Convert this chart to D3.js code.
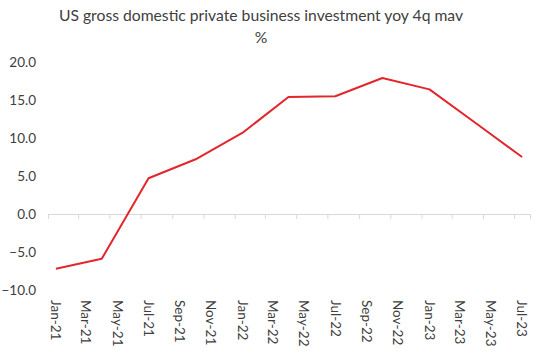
<!DOCTYPE html>
<html>
<head>
<meta charset="utf-8">
<script src="https://cdn.jsdelivr.net/npm/d3@7"></script>
<style>
  body { margin: 0; background: #fff; }
  svg { display: block; font-family: Lato, "Open Sans", sans-serif; }
</style>
</head>
<body>
<svg id="chart" width="540" height="351"></svg>
<script>
// quarterly observations (first month of quarter)
const periods = ["2021-01", "2021-04", "2021-07", "2021-10", "2022-01", "2022-04",
                 "2022-07", "2022-10", "2023-01", "2023-04", "2023-07"];
const values = [-7.2, -5.9, 4.7, 7.2, 10.7, 15.4, 15.5, 17.9, 16.4, 12.0, 7.5];
const yTicks = [-10, -5, 0, 5, 10, 15, 20];
const titleLines = ["US gross domestic private business investment yoy 4q mav", "%"];

const parseMonth = d3.timeParse("%Y-%m");
const data = periods.map((p, i) => ({ date: parseMonth(p), value: values[i] }));

const svg = d3.select("svg#chart");
const textColor = "#404040";

const area = { left: 48, right: 530, top: 62, bottom: 290 };

// x - date axis by months, points in the middle of their month
const start = parseMonth("2021-01");
const end = d3.timeMonth.offset(parseMonth("2023-07"), 1);
const scX = d3.scaleTime().domain([start, end]).range([area.left, area.right]);
const scY = d3.scaleLinear().domain([-10, 20]).range([area.bottom, area.top]);

const midMonth = d => {
    const next = d3.timeMonth.offset(d, 1);
    return (scX(d) + scX(next)) / 2;
};

// title
svg.append("g")
    .selectAll("text")
    .data(titleLines)
    .enter()
    .append("text")
    .attr("x", 261)
    .attr("y", (d, i) => 21 + i * 22)
    .attr("text-anchor", "middle")
    .style("font-size", "15.7px")
    .style("fill", textColor)
    .text(d => d);

// y labels (no axis line)
const axisY = d3.axisLeft(scY)
    .tickValues(yTicks)
    .tickFormat(d3.format(".1f"))
    .tickSize(0)
    .tickPadding(0);

svg.append("g")
    .attr("transform", "translate(36,0)")
    .call(axisY)
    .call(g => g.select(".domain").remove())
    .selectAll("text")
    .style("font-family", "Lato, 'Open Sans', sans-serif")
    .style("font-size", "13.5px")
    .style("fill", textColor);

// x axis sits on zero line
const monthTicks = d3.timeMonth.range(start, end, 2);
const axisX = d3.axisBottom(scX)
    .tickValues(monthTicks)
    .tickSize(5)
    .tickFormat("");

svg.append("g")
    .attr("transform", `translate(0,${scY(0)})`)
    .call(axisX)
    .call(g => g.selectAll("line, path").attr("stroke", "#d9d9d9"));

// x labels, rotated, at bottom
svg.append("g")
    .selectAll("text")
    .data(monthTicks)
    .enter()
    .append("text")
    .attr("transform", d => `translate(${midMonth(d)},${area.bottom + 10}) rotate(90)`)
    .attr("dy", "0.35em")
    .attr("text-anchor", "start")
    .style("font-size", "13.5px")
    .style("fill", textColor)
    .text(d3.timeFormat("%b-%y"));

// line
const line = d3.line()
    .x(d => midMonth(d.date))
    .y(d => scY(d.value));

svg.append("path")
    .datum(data)
    .attr("d", line)
    .style("fill", "none")
    .style("stroke", "#e3262c")
    .style("stroke-width", 2)
    .style("stroke-linejoin", "round");
</script>
</body>
</html>
